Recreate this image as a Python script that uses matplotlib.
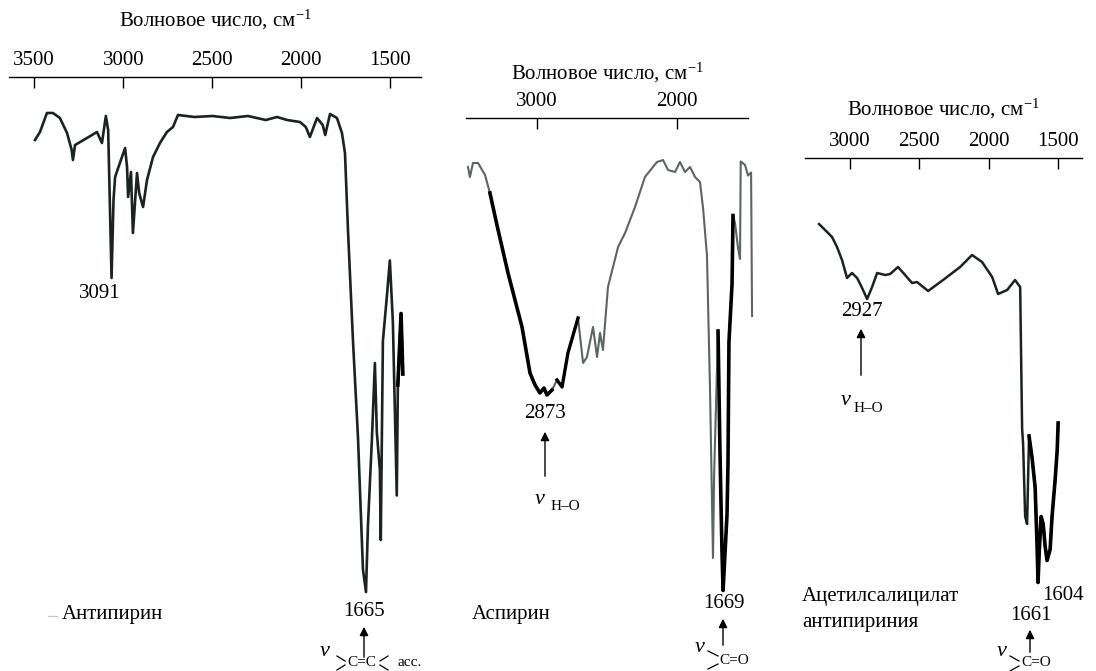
import matplotlib
matplotlib.use('Agg')
import matplotlib.pyplot as plt
from matplotlib.lines import Line2D
from matplotlib.patches import FancyArrowPatch

W, H = 1096, 671

plt.rcParams['font.family'] = ['Liberation Serif', 'DejaVu Serif']
plt.rcParams['mathtext.fontset'] = 'custom'
plt.rcParams['mathtext.rm'] = 'Liberation Serif'
plt.rcParams['mathtext.it'] = 'Liberation Serif:italic'

# --- spectra: wavenumber (cm-1) and transmittance (arb. units) ---
wn_antipyrine = [3496, 3468, 3429, 3395, 3356, 3316, 3290, 3283, 3271, 3204, 3148, 3120, 3098, 3085,
                 3066, 3055, 3046, 3029, 2990, 2979, 2973, 2957, 2946, 2923, 2911, 2889, 2867, 2833,
                 2794, 2755, 2721, 2693, 2600, 2500, 2400, 2300, 2200, 2137, 2080, 2008, 1975, 1952,
                 1912, 1880, 1866, 1839, 1800, 1772, 1755, 1738, 1710, 1682, 1654, 1637, 1626, 1604,
                 1587, 1576, 1559, 1554, 1542, 1520, 1503, 1486, 1464, 1458, 1440, 1430]
t_antipyrine = [87.4, 89.0, 92.8, 92.8, 91.8, 88.8, 85.4, 83.4, 86.4, 87.8, 89.0, 86.8, 92.2, 89.4,
                59.8, 75.4, 80.0, 81.8, 85.8, 82.0, 76.0, 81.0, 68.8, 80.8, 76.8, 74.0, 79.4, 84.0,
                86.8, 89.0, 90.0, 92.4, 92.0, 92.2, 91.8, 92.2, 91.4, 92.0, 91.4, 91.0, 90.0, 88.0,
                91.8, 90.4, 88.4, 92.6, 91.8, 88.8, 84.8, 69.3, 47.2, 28.0, 1.5, -3.0, 10.3, 27.3,
                42.8, 28.9, 21.4, 7.4, 47.2, 56.0, 63.3, 51.0, 16.3, 38.4, 52.7, 40.6]

wn_aspirin = [3493, 3479, 3457, 3421, 3371, 3336, 3286, 3207, 3107, 3050, 3014, 2979, 2950, 2929,
              2893, 2857, 2821, 2779, 2707, 2671, 2643, 2600, 2571, 2550, 2529, 2493, 2421, 2371,
              2300, 2229, 2143, 2100, 2064, 2014, 1979, 1943, 1907, 1871, 1836, 1814, 1786, 1764,
              1743, 1735, 1707, 1693, 1679, 1671, 1643, 1636, 1629, 1607, 1600, 1586, 1564, 1550,
              1545, 1514, 1493, 1471, 1464]
t_aspirin = [90.2, 88.2, 91.0, 91.0, 88.6, 85.0, 78.6, 69.0, 58.2, 49.0, 46.6, 45.0, 46.0, 44.6,
             45.6, 47.6, 46.2, 53.0, 60.0, 51.0, 52.2, 58.2, 52.2, 57.0, 53.6, 66.2, 74.2, 77.0,
             82.2, 88.2, 91.2, 91.6, 89.6, 89.2, 91.2, 89.2, 90.2, 88.2, 87.2, 82.0, 72.5, 45.3,
             12.0, 28.6, 57.4, 33.0, 13.5, 5.5, 20.6, 30.8, 55.2, 66.8, 80.5, 79.0, 74.0, 71.8,
             91.3, 90.6, 88.5, 89.1, 60.4]

wn_salt = [3224, 3180, 3130, 3094, 3058, 3022, 2986, 2949, 2913, 2877, 2841, 2805, 2747, 2711,
           2654, 2603, 2553, 2517, 2437, 2329, 2206, 2120, 2048, 1975, 1932, 1867, 1810, 1773,
           1759, 1752, 1737, 1723, 1709, 1687, 1665, 1651, 1644, 1636, 1622, 1607, 1593, 1579,
           1557, 1543, 1521, 1506, 1499]
t_salt = [86.8, 85.6, 84.2, 82.2, 79.6, 76.0, 77.0, 76.0, 74.0, 71.8, 74.2, 77.0, 76.6, 76.8,
          78.2, 76.6, 75.0, 75.2, 73.4, 75.6, 78.2, 80.6, 79.2, 76.2, 72.8, 73.6, 75.6, 74.2,
          45.9, 42.9, 28.3, 26.8, 44.4, 40.0, 34.1, 22.4, 15.1, 20.9, 28.3, 26.8, 22.4, 19.5,
          21.7, 28.3, 35.6, 41.5, 47.0]

ticks_antipyrine = [3500, 3000, 2500, 2000, 1500]
ticks_aspirin = [3000, 2000]
ticks_salt = [3000, 2500, 2000, 1500]

DARK = '#1b2220'
GRAY = '#5d6461'
FS = 15

fig = plt.figure(figsize=(W / 100, H / 100), dpi=100)


def fx(x):
    return x / W


def fy(y):
    return 1 - y / H


def add_panel(left, right, top, bottom, xlim, ylim, ticks, pad):
    ax = fig.add_axes([fx(left), fy(bottom), (right - left) / W, (bottom - top) / H])
    ax.set_xlim(*xlim)
    ax.set_ylim(*ylim)
    for s in ['left', 'right', 'bottom']:
        ax.spines[s].set_visible(False)
    ax.spines['top'].set_linewidth(1.0)
    ax.xaxis.tick_top()
    ax.xaxis.set_label_position('top')
    ax.set_xticks(ticks)
    ax.tick_params(axis='x', direction='in', length=8, width=1, pad=5, labelsize=FS)
    ax.set_yticks([])
    ax.set_xlabel('Волновое число, см$^{-1}$', fontsize=FS, labelpad=pad)
    ax.patch.set_visible(False)
    return ax


ax1 = add_panel(9, 421, 77, 602, (3642, 1328), (-5, 100), ticks_antipyrine, 18)
ax2 = add_panel(466, 748, 118, 618, (3507, 1493), (0, 100), ticks_aspirin, 9)
ax3 = add_panel(805, 1082, 158, 658, (3325, 1327), (0, 100), ticks_salt, 12)

ax1.plot(wn_antipyrine, t_antipyrine, color=DARK, lw=1.9, clip_on=False)
ax1.plot(wn_antipyrine[-3:], t_antipyrine[-3:], color='black', lw=2.6, clip_on=False)

# aspirin: grey trace with the heavier black stretches drawn over it
ax2.plot(wn_aspirin, t_aspirin, color=GRAY, lw=1.5, clip_on=False)
ax2.plot(wn_aspirin[5:15], t_aspirin[5:15], color='black', lw=2.6, clip_on=False)
ax2.plot(wn_aspirin[15:19], t_aspirin[15:19], color='black', lw=2.4, clip_on=False)
ax2.plot(wn_aspirin[44:53], t_aspirin[44:53], color='black', lw=2.6, clip_on=False)

ax3.plot(wn_salt, t_salt, color=DARK, lw=1.8, clip_on=False)
ax3.plot(wn_salt[32:], t_salt[32:], color='black', lw=2.6, clip_on=False)


def label(x, y, s, ha='center', size=FS, **kw):
    fig.text(fx(x), fy(y), s, ha=ha, va='center', fontsize=size, **kw)


def arrow(x, y_tip, y_tail):
    fig.add_artist(FancyArrowPatch(
        (fx(x), fy(y_tail)), (fx(x), fy(y_tip)), transform=fig.transFigure,
        arrowstyle='-|>', mutation_scale=13, lw=1.0, color='black'))


def stub(x1, y1, x2, y2, color='black'):
    fig.add_artist(Line2D([fx(x1), fx(x2)], [fy(y1), fy(y2)],
                          transform=fig.transFigure, color=color, lw=0.9))


def nu(x, y):
    label(x, y, 'ν', style='italic', size=FS + 1)


# panel 1 - antipyrine
label(100, 294, '3091')
stub(48, 616, 57, 616, color='#c8c8c8')
label(62, 614, 'Антипирин', ha='left')
label(364, 612, '1665')
arrow(364, 624, 660)
nu(325, 652)
stub(337, 656, 345, 661)
stub(337, 670, 345, 665)
label(362, 663, 'C=C', size=11)
stub(380, 661, 388, 656)
stub(380, 665, 388, 670)
label(398, 663, 'асс.', ha='left', size=11)

# panel 2 - aspirin
label(545, 414, '2873')
arrow(545, 429, 479)
nu(540, 499)
label(551, 506, 'H–O', ha='left', size=11)
label(472, 614, 'Аспирин', ha='left')
label(724, 603, '1669')
arrow(723, 616, 648)
nu(700, 647)
stub(708, 651, 718, 656)
stub(708, 669, 718, 664)
label(734, 660, 'C=O', size=11)

# panel 3 - acetylsalicylate antipyrinium
label(862, 312, '2927')
arrow(861, 326, 378)
nu(846, 401)
label(854, 408, 'H–O', ha='left', size=11)
label(802, 597, 'Ацетилсалицилат', ha='left')
label(802, 622, 'антипириния', ha='left')
label(1042, 596, '1604', ha='left')
label(1031, 615, '1661')
arrow(1030, 627, 655)
nu(1002, 652)
stub(1010, 656, 1019, 661)
stub(1010, 671, 1019, 666)
label(1036, 663, 'C=O', size=11)

fig.savefig('out.png', dpi=100)
